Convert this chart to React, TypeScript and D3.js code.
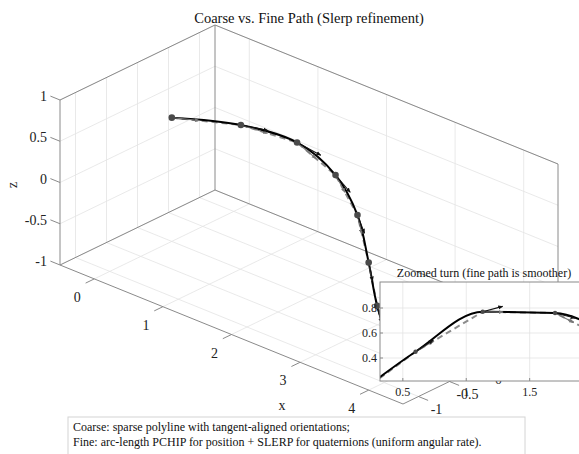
import React from "react";
import * as d3 from "d3";

const W = 579;
const H = 454;

// Axis limits and ticks
const xLim = [-0.5, 4.5];
const yLim = [-1.25, 1.25];
const zLim = [-1, 1];
const xTicks = [0, 1, 2, 3, 4];
const yTicks = [-1, -0.5, 0, 0.5, 1];
const zTicks = [-1, -0.5, 0, 0.5, 1];
const xTickLabels = ["0", "1", "2", "3", "4"];
const yTickLabels = ["-1", "-0.5", "0", "0.5", "1"];
const zTickLabels = ["-1", "-0.5", "0", "0.5", "1"];

// Coarse waypoints (x, y, z)
const coarseX = [0, 0.6, 1.13, 1.7, 2.3, 2.87, 3.4, 4.0];
const coarseY = [0, 0.45, 0.77, 0.76, 0.45, 0.0, -0.45, -0.9];
const coarseZ = [0.5, 0.45, 0.3, 0.1, -0.07, -0.29, -0.47, -0.6];

// Inset (top view of the turn)
const insetXLim = [0.32, 1.96];
const insetYLim = [0.216, 1.008];
const insetXTicks = [0.5, 1, 1.5];
const insetYTicks = [0.4, 0.6, 0.8];
const insetXTickLabels = ["0.5", "1", "1.5"];
const insetYTickLabels = ["0.4", "0.6", "0.8"];

const titleText = "Coarse vs. Fine Path (Slerp refinement)";
const insetTitle = "Zoomed turn (fine path is smoother)";
const noteLines = [
  "Coarse: sparse polyline with tangent-aligned orientations;",
  "Fine: arc-length PCHIP for position + SLERP for quaternions (uniform angular rate).",
];

const FONT = "'Liberation Serif', 'Times New Roman', serif";

// Oblique 3-D projection of the axes box
const origin = [60, 265];
const vX = [343, 139];
const vY = [155, -75];
const vZ = [0, -165];
const fx = d3.scaleLinear().domain(xLim).range([0, 1]);
const fy = d3.scaleLinear().domain(yLim).range([0, 1]);
const fz = d3.scaleLinear().domain(zLim).range([0, 1]);

type P3 = [number, number, number];
const proj = (p: P3): [number, number] => {
  const a = fx(p[0]), b = fy(p[1]), c = fz(p[2]);
  return [
    origin[0] + a * vX[0] + b * vY[0] + c * vZ[0],
    origin[1] + a * vX[1] + b * vY[1] + c * vZ[1],
  ];
};

const [x0, x1] = xLim;
const [y0, y1] = yLim;
const [z0, z1] = zLim;

const pts: P3[] = coarseX.map((x, i) => [x, coarseY[i], coarseZ[i]]);

const norm = (v: P3): P3 => {
  const l = Math.hypot(v[0], v[1], v[2]) || 1;
  return [v[0] / l, v[1] / l, v[2] / l];
};
const sub = (a: P3, b: P3): P3 => [a[0] - b[0], a[1] - b[1], a[2] - b[2]];
const add = (a: P3, b: P3, s: number): P3 => [a[0] + b[0] * s, a[1] + b[1] * s, a[2] + b[2] * s];

// Coarse orientation: forward segment direction; fine: blended tangent
const coarseDirs = pts.slice(0, -1).map((p, i) => norm(sub(pts[i + 1], p)));
const fineDirs = pts.slice(1, -1).map((p, k) => {
  const a = coarseDirs[k];
  const b = coarseDirs[k + 1];
  return norm([a[0] + b[0], a[1] + b[1], a[2] + b[2]]);
});
const arrows = (len: number) => ({
  coarse: coarseDirs.map((d, i) => [pts[i], add(pts[i], d, len)] as [P3, P3]),
  fine: fineDirs.map((d, k) => [pts[k + 1], add(pts[k + 1], d, len)] as [P3, P3]),
});
const mainArrows = arrows(0.3);
const insetArrows = arrows(0.17);

const seg = (a: P3, b: P3) => {
  const p = proj(a), q = proj(b);
  return { x1: p[0], y1: p[1], x2: q[0], y2: q[1] };
};

const gridSegs: [P3, P3][] = [];
xTicks.forEach((t) => {
  gridSegs.push([[t, y0, z0], [t, y1, z0]]);
  gridSegs.push([[t, y1, z0], [t, y1, z1]]);
});
yTicks.forEach((t) => {
  gridSegs.push([[x0, t, z0], [x1, t, z0]]);
  gridSegs.push([[x0, t, z0], [x0, t, z1]]);
});
zTicks.forEach((t) => {
  gridSegs.push([[x0, y1, t], [x1, y1, t]]);
  gridSegs.push([[x0, y0, t], [x0, y1, t]]);
});

const boxSegs: [P3, P3][] = [
  [[x0, y0, z0], [x0, y0, z1]],
  [[x0, y0, z0], [x1, y0, z0]],
  [[x1, y0, z0], [x1, y1, z0]],
  [[x0, y0, z1], [x0, y1, z1]],
  [[x0, y1, z1], [x1, y1, z1]],
  [[x0, y1, z0], [x0, y1, z1]],
  [[x1, y1, z0], [x1, y1, z1]],
  [[x0, y0, z0], [x0, y1, z0]],
  [[x0, y1, z0], [x1, y1, z0]],
];

const line2 = d3.line<[number, number]>();
const smooth = d3.line<[number, number]>().curve(d3.curveCatmullRom.alpha(0.5));
const pchip = d3.line<[number, number]>().curve(d3.curveMonotoneX);

// Inset geometry
const inL = 380, inR = 588, inT = 282, inB = 381;
const ix = d3.scaleLinear().domain(insetXLim).range([inL, inR]);
const iy = d3.scaleLinear().domain(insetYLim).range([inB, inT]);
const iproj = (p: P3): [number, number] => [ix(p[0]), iy(p[1])];

export default function App() {
  const mainPts = pts.map(proj);
  const insetPts = pts.map(iproj);
  const tickLen = 0.14;

  return (
    <svg width={W} height={H} style={{ display: "block", position: "absolute", left: 0, top: 0, background: "#fff" }} fontFamily={FONT}>
      <defs>
        <marker id="headK" viewBox="0 0 8 8" refX="7" refY="4" markerWidth="5" markerHeight="5" orient="auto" markerUnits="userSpaceOnUse">
          <path d="M0,0.8 L8,4 L0,7.2 z" fill="#111" />
        </marker>
        <marker id="headG" viewBox="0 0 8 8" refX="7" refY="4" markerWidth="5" markerHeight="5" orient="auto" markerUnits="userSpaceOnUse">
          <path d="M0,0.8 L8,4 L0,7.2 z" fill="#777" />
        </marker>
        <clipPath id="insetClip">
          <rect x={inL} y={inT} width={inR - inL} height={inB - inT} />
        </clipPath>
      </defs>
      <rect x={0} y={0} width={W} height={H} fill="#fff" />

      {/* title */}
      <text x={309} y={23} textAnchor="middle" fontSize={14.5} fill="#111">{titleText}</text>

      {/* grid on back planes */}
      <g stroke="#e3e3e3" strokeWidth={0.8}>
        {gridSegs.map((s, i) => <line key={i} {...seg(s[0], s[1])} />)}
      </g>
      {/* box edges */}
      <g stroke="#8a8a8a" strokeWidth={1}>
        {boxSegs.map((s, i) => <line key={i} {...seg(s[0], s[1])} />)}
      </g>

      {/* ticks */}
      <g stroke="#8a8a8a" strokeWidth={1}>
        {xTicks.map((t, i) => <line key={"xt" + i} {...seg([t, y0, z0], [t, y0 - tickLen, z0])} />)}
        {yTicks.map((t, i) => <line key={"yt" + i} {...seg([x1, t, z0], [x1 + tickLen, t, z0])} />)}
        {zTicks.map((t, i) => <line key={"zt" + i} {...seg([x0, y0, t], [x0 - tickLen, y0, t])} />)}
      </g>
      <g fontSize={14} fill="#222">
        {xTicks.map((t, i) => {
          const p = proj([t, y0, z0]);
          return <text key={"xl" + i} x={p[0] - 17} y={p[1] + 23} textAnchor="middle">{xTickLabels[i]}</text>;
        })}
        {yTicks.map((t, i) => {
          const p = proj([x1, t, z0]);
          return <text key={"yl" + i} x={p[0] + 18} y={p[1] + 17} textAnchor="middle">{yTickLabels[i]}</text>;
        })}
        {zTicks.map((t, i) => {
          const p = proj([x0, y0, t]);
          return <text key={"zl" + i} x={47} y={p[1] + 1} textAnchor="end">{zTickLabels[i]}</text>;
        })}
      </g>
      <text x={282} y={410} textAnchor="middle" fontSize={14} fill="#222">x</text>
      <text x={492} y={428} textAnchor="middle" fontSize={14} fill="#222">y</text>
      <text transform="translate(17,185) rotate(-90)" textAnchor="middle" fontSize={14} fill="#222">z</text>

      {/* coarse path */}
      <path d={line2(mainPts) || ""} fill="none" stroke="#8c8c8c" strokeWidth={2} strokeDasharray="6,4" />
      {/* fine path */}
      <path d={smooth(mainPts) || ""} fill="none" stroke="#000" strokeWidth={2} />
      {/* orientation arrows */}
      <g strokeWidth={1.1}>
        {mainArrows.coarse.map((a, i) => <line key={"ca" + i} {...seg(a[0], a[1])} stroke="#777" markerEnd="url(#headG)" />)}
        {mainArrows.fine.map((a, i) => <line key={"fa" + i} {...seg(a[0], a[1])} stroke="#111" markerEnd="url(#headK)" />)}
      </g>
      <g fill="#4a4a4a">
        {mainPts.map((p, i) => <circle key={i} cx={p[0]} cy={p[1]} r={3.3} />)}
      </g>

      {/* inset */}
      <text x={(inL + inR) / 2} y={277} textAnchor="middle" fontSize={12} fill="#111">{insetTitle}</text>
      <rect x={inL} y={inT} width={inR - inL} height={inB - inT} fill="#fff" />
      <g stroke="#e3e3e3" strokeWidth={0.8}>
        {insetXTicks.map((t, i) => <line key={"igx" + i} x1={ix(t)} x2={ix(t)} y1={inT} y2={inB} />)}
        {insetYTicks.map((t, i) => <line key={"igy" + i} x1={inL} x2={inR} y1={iy(t)} y2={iy(t)} />)}
      </g>
      <g clipPath="url(#insetClip)">
        <path d={line2(insetPts) || ""} fill="none" stroke="#8c8c8c" strokeWidth={2} strokeDasharray="6,4" />
        <path d={pchip(insetPts) || ""} fill="none" stroke="#000" strokeWidth={2} />
        <g strokeWidth={1.1}>
          {insetArrows.coarse.map((a, i) => {
            const p = iproj(a[0]), q = iproj(a[1]);
            return <line key={"ica" + i} x1={p[0]} y1={p[1]} x2={q[0]} y2={q[1]} stroke="#777" markerEnd="url(#headG)" />;
          })}
          {insetArrows.fine.map((a, i) => {
            const p = iproj(a[0]), q = iproj(a[1]);
            return <line key={"ifa" + i} x1={p[0]} y1={p[1]} x2={q[0]} y2={q[1]} stroke="#111" markerEnd="url(#headK)" />;
          })}
        </g>
        <g fill="#4a4a4a">
          {insetPts.map((p, i) => <circle key={i} cx={p[0]} cy={p[1]} r={2.2} />)}
        </g>
      </g>
      <rect x={inL} y={inT} width={inR - inL} height={inB - inT} fill="none" stroke="#8a8a8a" strokeWidth={1} />
      <g stroke="#8a8a8a" strokeWidth={1}>
        {insetXTicks.map((t, i) => <line key={"itx" + i} x1={ix(t)} x2={ix(t)} y1={inB} y2={inB - 3} />)}
        {insetYTicks.map((t, i) => <line key={"ity" + i} x1={inL} x2={inL + 3} y1={iy(t)} y2={iy(t)} />)}
      </g>
      <g fontSize={12} fill="#222">
        {insetXTicks.map((t, i) => <text key={"ixl" + i} x={ix(t)} y={inB + 15} textAnchor="middle">{insetXTickLabels[i]}</text>)}
        {insetYTicks.map((t, i) => <text key={"iyl" + i} x={inL - 3} y={iy(t) + 4} textAnchor="end">{insetYTickLabels[i]}</text>)}
      </g>

      {/* note box */}
      <rect x={68} y={417} width={457} height={45} fill="#fff" stroke="#d4d4d4" strokeWidth={1} />
      <g fontSize={12} fill="#111">
        {noteLines.map((s, i) => <text key={i} x={73} y={431 + i * 15}>{s}</text>)}
      </g>
    </svg>
  );
}
